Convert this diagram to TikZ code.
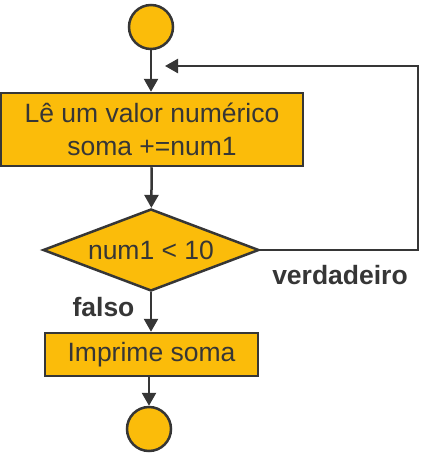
\documentclass[tikz,border=0pt]{standalone}
\usepackage{fontspec}
\setmainfont{Liberation Sans}
\usetikzlibrary{shapes.geometric,arrows.meta}
\definecolor{fillc}{HTML}{FBBC0A}
\definecolor{linec}{HTML}{363636}
\begin{document}
\begin{tikzpicture}[x=1pt,y=-1pt,
  every node/.style={text=linec},
  base/.style={draw=linec,fill=fillc,line width=2.5pt,inner sep=0pt,font=\fontsize{26.5}{33}\selectfont},
  term/.style={base,circle,minimum size=44pt},
  proc/.style={base,rectangle,align=center},
  dec/.style={base,diamond,aspect=2.63,minimum width=216pt,minimum height=82pt},
  lbl/.style={font=\fontsize{26.5}{33}\selectfont\bfseries,inner sep=0pt},
  conn/.style={draw=linec,line width=2.5pt,-{Triangle[length=13pt,width=14pt]}}]
\useasboundingbox (0,0) rectangle (423,458);
\node[term] (start) at (151,27) {};
\node[proc,minimum width=302pt,minimum height=73pt] (read) at (152,129.5) {Lê um valor numérico\\soma +=num1};
\node[dec] (test) at (151,250) {num1 < 10};
\node[proc,minimum width=213pt,minimum height=43pt] (print) at (151.5,354.5) {Imprime soma};
\node[term] (stop) at (149,429) {};
\coordinate (back) at (165,66);
\node[lbl] (vlab) at (340,275) {verdadeiro};
\node[lbl] (flab) at (103.5,307) {falso};
\draw[conn] (start) -- (read.north -| start);
\draw[conn] (read) -- (test);
\draw[conn] (test) -- (print.north -| test);
\draw[conn] (print.south -| stop) -- (stop);
\draw[conn] (test.east) -- (418,250) -- (418,66) -- (back);
\end{tikzpicture}
\end{document}
